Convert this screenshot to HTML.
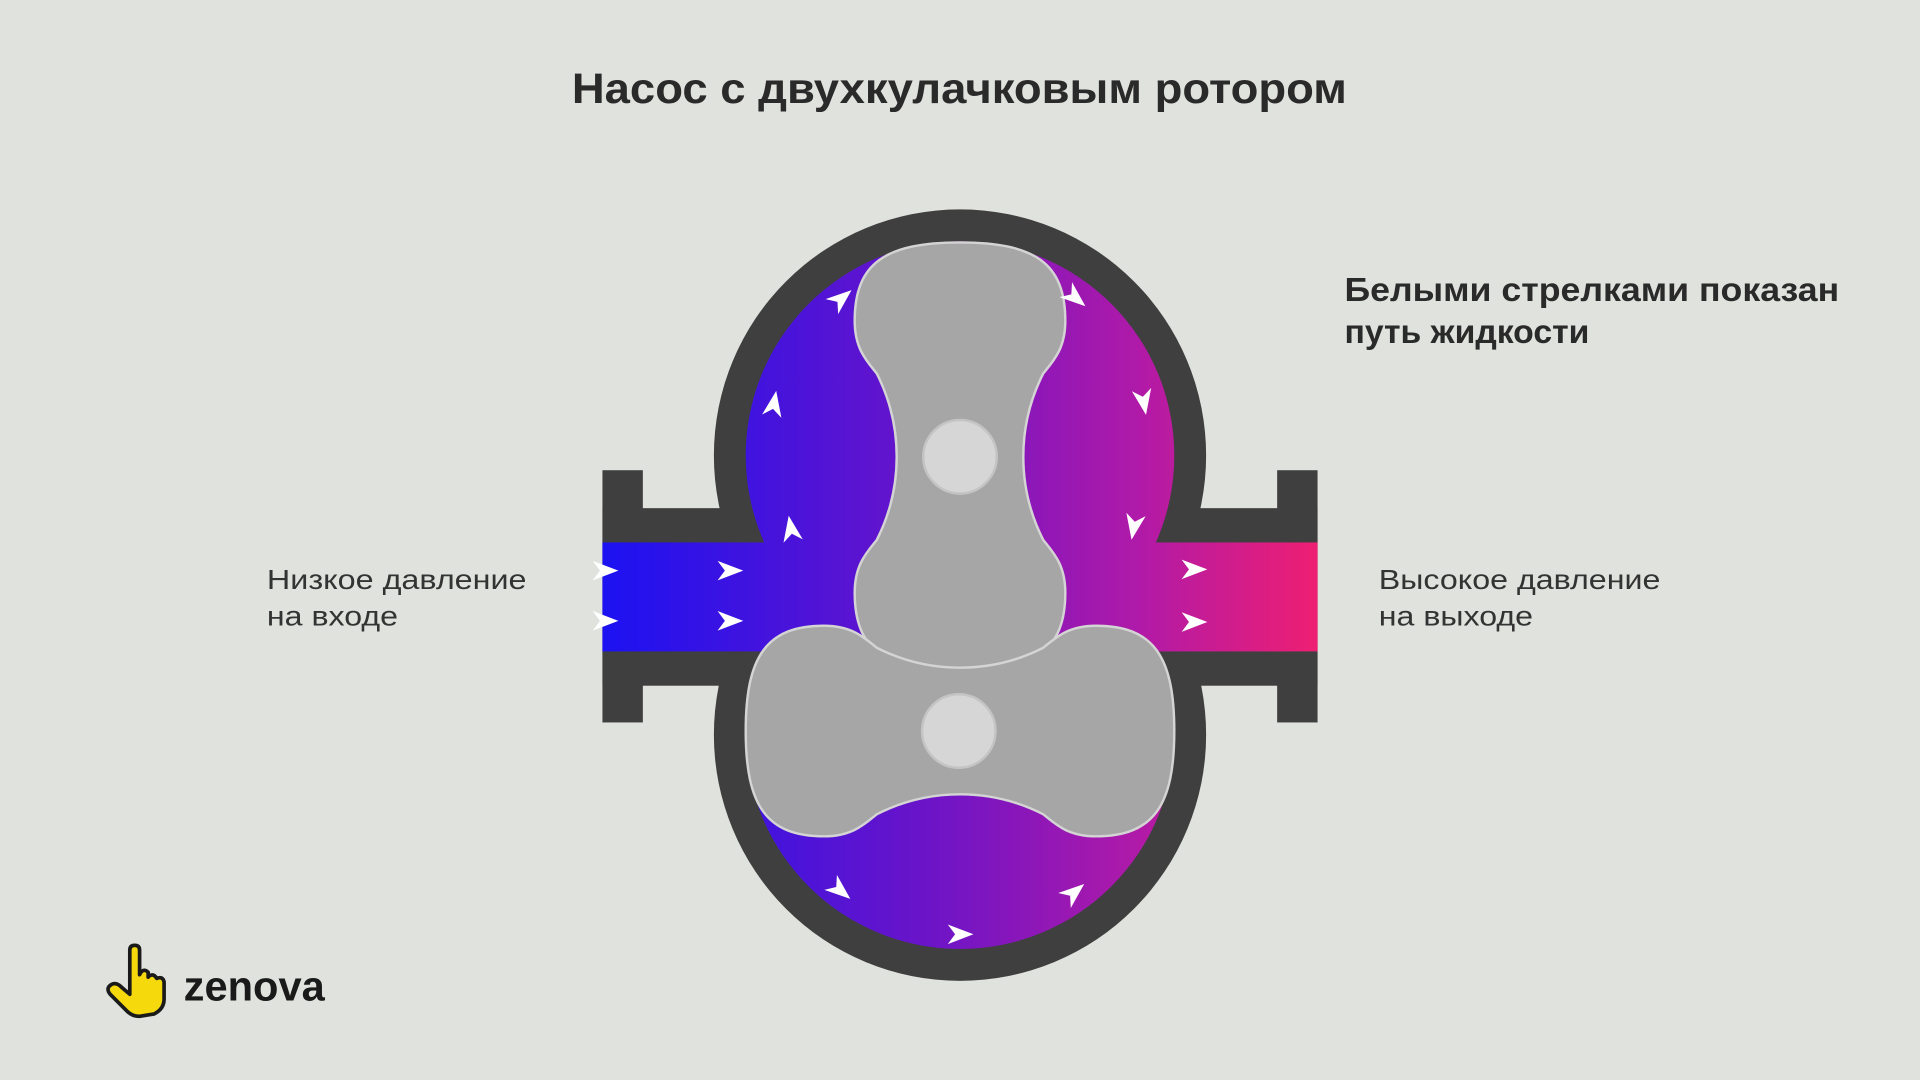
<!DOCTYPE html>
<html><head><meta charset="utf-8"><style>
html,body{margin:0;padding:0;background:#e0e2dd;}
svg{display:block;}
</style></head><body>
<svg width="1920" height="1080" viewBox="0 0 1568 882" xmlns="http://www.w3.org/2000/svg">
<defs>
<linearGradient id="g" x1="492" y1="0" x2="1076" y2="0" gradientUnits="userSpaceOnUse">
<stop offset="0" stop-color="#1c12f2"/>
<stop offset="0.45" stop-color="#6a14c8"/>
<stop offset="0.75" stop-color="#b01aa8"/>
<stop offset="1" stop-color="#ee1f72"/>
</linearGradient>
<path id="rot" d="M 784 198 C 845 198 870 215 870 262 C 870 285 860 295 852 305 A 150 150 0 0 0 852 441 C 860 451 870 461 870 484 C 870 531 845 548 784 548 C 723 548 698 531 698 484 C 698 461 708 451 716 441 A 150 150 0 0 0 716 305 C 708 295 698 285 698 262 C 698 215 723 198 784 198 Z"/>
<path id="ar" d="M 11 0 L -10 -8 L -4 0 L -10 8 Z" fill="#fff"/>
</defs>
<rect width="1568" height="882" fill="#e0e2dd"/>
<text x="467" y="84" textLength="633" lengthAdjust="spacingAndGlyphs" font-family="Liberation Sans, sans-serif" font-weight="bold" font-size="35" fill="#2a2a2a">Насос с двухкулачковым ротором</text>
<g fill="#3f3f3f">
<circle cx="784" cy="372" r="201"/>
<circle cx="784" cy="600" r="201"/>
<rect x="492" y="415" width="120" height="145"/>
<rect x="956" y="415" width="120" height="145"/>
<rect x="492" y="384" width="33" height="206"/>
<rect x="1043" y="384" width="33" height="206"/>
</g>
<g fill="url(#g)">
<circle cx="784" cy="372" r="175"/>
<circle cx="784" cy="600" r="175"/>
<rect x="492" y="443" width="584" height="89"/>
</g>
<g fill="#a6a6a6" stroke="#d4d4d4" stroke-width="2">
<use href="#rot"/>
<use href="#rot" transform="rotate(90 784 597) translate(0 224)"/>
</g>
<circle cx="784" cy="373" r="30" fill="#d6d6d6" stroke="#c4c4c4" stroke-width="2"/>
<circle cx="783" cy="597" r="30" fill="#d6d6d6" stroke="#c4c4c4" stroke-width="2"/>
<use href="#ar" transform="translate(494 466)"/>
<use href="#ar" transform="translate(494 507)"/>
<use href="#ar" transform="translate(596 466)"/>
<use href="#ar" transform="translate(596 507)"/>
<use href="#ar" transform="translate(975 465)"/>
<use href="#ar" transform="translate(975 508)"/>
<use href="#ar" transform="translate(646 432) rotate(-100)"/>
<use href="#ar" transform="translate(632 330) rotate(-80)"/>
<use href="#ar" transform="translate(687 244) rotate(-40)"/>
<use href="#ar" transform="translate(878 243) rotate(40)"/>
<use href="#ar" transform="translate(934 328) rotate(80)"/>
<use href="#ar" transform="translate(926 430) rotate(100)"/>
<use href="#ar" transform="translate(686 727) rotate(40)"/>
<use href="#ar" transform="translate(784 763)"/>
<use href="#ar" transform="translate(877 729) rotate(-40)"/>
<g font-family="Liberation Sans, sans-serif" fill="#2a2a2a">
<text x="1098" y="246" textLength="404" lengthAdjust="spacingAndGlyphs" font-size="27" font-weight="bold">Белыми стрелками показан</text>
<text x="1098" y="280" textLength="200" lengthAdjust="spacingAndGlyphs" font-size="27" font-weight="bold">путь жидкости</text>
<g font-size="23" fill="#333">
<text x="218" y="481" textLength="212" lengthAdjust="spacingAndGlyphs">Низкое давление</text>
<text x="218" y="511" textLength="107" lengthAdjust="spacingAndGlyphs">на входе</text>
<text x="1126" y="481" textLength="230" lengthAdjust="spacingAndGlyphs">Высокое давление</text>
<text x="1126" y="511" textLength="126" lengthAdjust="spacingAndGlyphs">на выходе</text>
</g>
</g>
<g transform="translate(86 772)">
<path d="M 20 4 Q 20 0 24 0 Q 28 0 28 4 L 28 24 Q 31 18 35 22 L 35 26 Q 39 22 42 27 Q 47 25 48 30 L 48 44 Q 48 52 40 56 L 28 58 Q 22 58 18 54 L 4 40 Q 0 35 5 32 Q 9 30 13 34 L 20 40 Z" fill="#f5d90c" stroke="#1a1a1a" stroke-width="3" stroke-linejoin="round"/>
</g>
<text x="150" y="817" font-family="Liberation Sans, sans-serif" font-weight="bold" font-size="34" fill="#1a1a1a">zenova</text>
</svg>
</body></html>
